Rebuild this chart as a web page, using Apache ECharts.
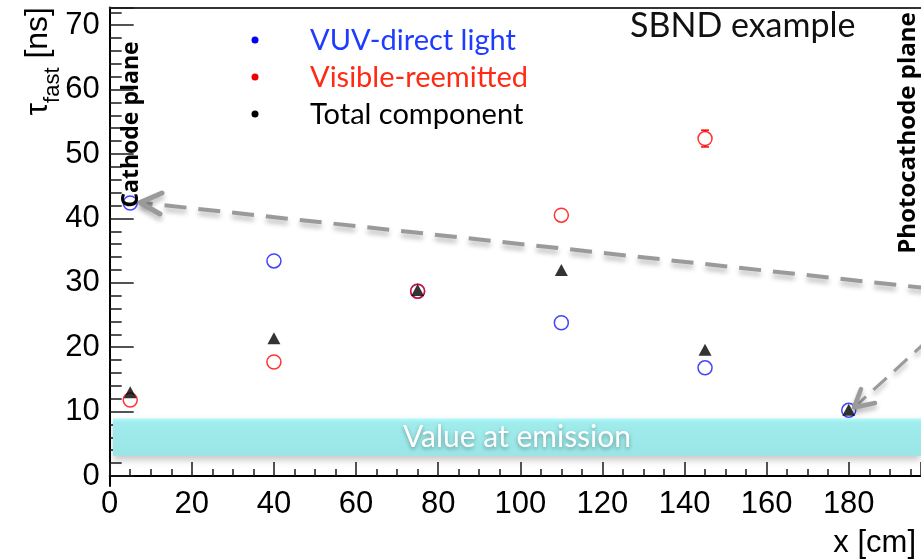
<!DOCTYPE html>
<html>
<head>
<meta charset="utf-8">
<script src="https://cdn.jsdelivr.net/npm/echarts@6/dist/echarts.min.js"></script>
<style>
  html, body { margin: 0; padding: 0; background: #ffffff; }
  #chart { width: 921px; height: 559px; }
</style>
</head>
<body>
<div id="chart"></div>
<script>
// Drift distance of the scintillation point from the cathode (cm)
const positions = [5, 40, 75, 110, 145, 180];
// Fast decay constant seen at the photocathode (ns)
const vuvTau = [42.4, 33.4, 28.7, 23.8, 16.8, 10.2];
const visTau = [11.8, 17.7, 28.7, 40.5, 52.4];
const visErr = [0.3, 0.3, 0.3, 0.5, 1.3];
const totalTau = [13.0, 21.4, 28.9, 32.0, 19.6, 10.3];
// Range of tau_fast at emission (ns)
const emissionBand = [3.15, 8.95];
// Axis ranges
const xRange = [0, 197.6];
const xStep = 20;
const yTickRange = [0, 72.75];
const yStep = 10;
const yFrameRange = [-1.55, 72.75];

const HELV = '"Liberation Sans", Arial, sans-serif';
const HUMAN = 'Lato, "Open Sans", sans-serif';
const TICK = '#1a1a1a';

const chart = echarts.init(document.getElementById('chart'), null, { renderer: 'canvas' });

const vuvData = positions.map((x, i) => [x, vuvTau[i]]);
const visData = visTau.map((v, i) => [positions[i], v]);
const visErrData = visTau.map((v, i) => [positions[i], v, visErr[i]]);
const totData = positions.map((x, i) => [x, totalTau[i]]);

const MARK_R = 7;

function errorBar(params, api) {
  const x = api.value(0), y = api.value(1), e = api.value(2);
  const mid = api.coord([x, y]);
  const hi = api.coord([x, y + e]);
  const lo = api.coord([x, y - e]);
  const style = { stroke: '#ff0000', lineWidth: 1.5 };
  const kids = [];
  if (mid[1] - hi[1] > MARK_R) {
    kids.push({ type: 'line', shape: { x1: mid[0], y1: mid[1] - MARK_R, x2: hi[0], y2: hi[1] }, style });
    kids.push({ type: 'line', shape: { x1: hi[0] - 4, y1: hi[1], x2: hi[0] + 4, y2: hi[1] }, style });
  }
  if (lo[1] - mid[1] > MARK_R) {
    kids.push({ type: 'line', shape: { x1: mid[0], y1: mid[1] + MARK_R, x2: lo[0], y2: lo[1] }, style });
    kids.push({ type: 'line', shape: { x1: lo[0] - 4, y1: lo[1], x2: lo[0] + 4, y2: lo[1] }, style });
  }
  return { type: 'group', children: kids };
}

const arrowStyle = (w) => ({
  stroke: '#9a9a9a',
  lineWidth: w,
  shadowBlur: 5,
  shadowColor: 'rgba(0,0,0,0.28)',
  shadowOffsetY: 4,
  fill: null
});

const option = {
  backgroundColor: '#ffffff',
  animation: false,
  grid: [
    { left: 109.7, right: 0, top: 7.5, bottom: 73, show: false },
    { left: 109.7, right: 0, top: 7.5, bottom: 83, show: false }
  ],
  xAxis: [
    {
      gridIndex: 0, type: 'value', min: xRange[0], max: xRange[1], interval: xStep,
      axisLine: { show: true, lineStyle: { color: '#000', width: 2 } },
      axisTick: { show: true, inside: true, length: 14, lineStyle: { color: TICK, width: 1.5 } },
      minorTick: { show: true, splitNumber: 4, length: 7, lineStyle: { color: TICK, width: 1.5 } },
      splitLine: { show: false },
      axisLabel: { show: true, margin: 3, fontSize: 31, fontFamily: HELV, color: '#000', showMaxLabel: false }
    },
    {
      // upper frame edge
      gridIndex: 0, type: 'value', position: 'top', min: xRange[0], max: xRange[1],
      axisLine: { show: true, lineStyle: { color: '#333', width: 2 } },
      axisTick: { show: false }, axisLabel: { show: false }, splitLine: { show: false }
    },
    { gridIndex: 1, type: 'value', min: xRange[0], max: xRange[1], show: false }
  ],
  yAxis: [
    {
      gridIndex: 0, type: 'value', min: yFrameRange[0], max: yFrameRange[1],
      axisLine: { show: true, lineStyle: { color: '#000', width: 2 } },
      axisTick: { show: false }, axisLabel: { show: false }, splitLine: { show: false }
    },
    {
      gridIndex: 1, type: 'value', min: yTickRange[0], max: yTickRange[1], interval: yStep,
      axisLine: { show: false },
      axisTick: { show: true, inside: true, length: 24, lineStyle: { color: TICK, width: 1.5 } },
      minorTick: { show: true, splitNumber: 5, length: 12, lineStyle: { color: TICK, width: 1.5 } },
      splitLine: { show: false },
      axisLabel: { show: true, margin: 10, fontSize: 31, fontFamily: HELV, color: '#000', showMaxLabel: false }
    }
  ],
  series: [
    {
      name: 'VUV-direct light', type: 'scatter', xAxisIndex: 0, yAxisIndex: 0,
      data: vuvData, symbol: 'circle', symbolSize: 2 * MARK_R, z: 3,
      itemStyle: { color: 'rgba(0,0,0,0)', borderColor: '#1414ff', borderWidth: 1.5 },
      markArea: {
        silent: true,
        itemStyle: {
          color: {
            type: 'linear', x: 0, y: 0, x2: 0, y2: 1,
            colorStops: [
              { offset: 0, color: '#b0fafa' },
              { offset: 0.12, color: '#a0ecec' },
              { offset: 1, color: '#9ae6e6' }
            ]
          },
          shadowBlur: 7, shadowColor: 'rgba(0,0,0,0.22)', shadowOffsetY: 4
        },
        label: {
          show: true, position: 'inside', formatter: 'Value at emission',
          color: '#ffffff', fontSize: 30, fontFamily: HUMAN,
          textShadowColor: 'rgba(0,0,0,0.35)', textShadowBlur: 4, textShadowOffsetY: 2
        },
        data: [[{ xAxis: 0.8, yAxis: emissionBand[0] }, { xAxis: xRange[1], yAxis: emissionBand[1] }]]
      }
    },
    {
      name: 'Visible-reemitted errors', type: 'custom', xAxisIndex: 0, yAxisIndex: 0,
      data: visErrData, renderItem: errorBar, z: 3, silent: true
    },
    {
      name: 'Visible-reemitted', type: 'scatter', xAxisIndex: 0, yAxisIndex: 0,
      data: visData, symbol: 'circle', symbolSize: 2 * MARK_R, z: 4,
      itemStyle: { color: 'rgba(0,0,0,0)', borderColor: '#ff0000', borderWidth: 1.5 }
    },
    {
      name: 'Total component', type: 'scatter', xAxisIndex: 0, yAxisIndex: 0,
      data: totData, symbol: 'triangle', symbolSize: [13, 12], z: 5,
      itemStyle: { color: '#000000' }
    }
  ],
  graphic: [
    // legend
    { type: 'circle', z: 100, shape: { cx: 255, cy: 40, r: 3.5 }, style: { fill: '#0000ee' } },
    { type: 'circle', z: 100, shape: { cx: 255, cy: 77, r: 3.5 }, style: { fill: '#ee0000' } },
    { type: 'circle', z: 100, shape: { cx: 255, cy: 114, r: 3.5 }, style: { fill: '#000000' } },
    { type: 'text', z: 100, x: 310, y: 41, style: { text: 'VUV-direct light', fill: '#1e3cff', font: '29px ' + HUMAN, verticalAlign: 'middle' } },
    { type: 'text', z: 100, x: 310, y: 78, style: { text: 'Visible-reemitted', fill: '#ff2a14', font: '29px ' + HUMAN, verticalAlign: 'middle' } },
    { type: 'text', z: 100, x: 310, y: 115, style: { text: 'Total component', fill: '#000000', font: '29px ' + HUMAN, verticalAlign: 'middle' } },
    // caption
    { type: 'text', z: 100, x: 630, y: 26, style: { text: 'SBND example', fill: '#111', font: '34px ' + HUMAN, verticalAlign: 'middle' } },
    // plane labels
    { type: 'text', z: 100, x: 131, y: 124.5, rotation: Math.PI / 2, style: { text: 'Cathode plane', fill: '#000', font: 'bold 23px "Open Sans", sans-serif', align: 'center', verticalAlign: 'middle' } },
    { type: 'text', z: 100, x: 908, y: 133, rotation: Math.PI / 2, style: { text: 'Photocathode plane', fill: '#000', font: 'bold 24px "Open Sans", sans-serif', align: 'center', verticalAlign: 'middle' } },
    // dashed pointers
    { type: 'line', z: 90, shape: { x1: 930, y1: 288.5, x2: 142, y2: 202.8 }, style: Object.assign(arrowStyle(4), { lineDash: [22, 12] }) },
    { type: 'polyline', z: 90, shape: { points: [[162, 193], [140, 202.6], [160, 214]] }, style: Object.assign(arrowStyle(5), { lineJoin: 'round', lineCap: 'round' }) },
    { type: 'line', z: 90, shape: { x1: 928, y1: 340, x2: 858, y2: 404 }, style: Object.assign(arrowStyle(3), { lineDash: [18, 10] }) },
    { type: 'polyline', z: 90, shape: { points: [[861, 389], [854, 407.5], [875, 403]] }, style: Object.assign(arrowStyle(4.5), { lineJoin: 'round', lineCap: 'round' }) },
    // axis titles
    {
      type: 'text', z: 100, x: 38, y: 7, rotation: Math.PI / 2,
      style: {
        text: '{t|τ}{s|fast}{t| [ns]}', align: 'right', verticalAlign: 'middle', fill: '#000',
        rich: {
          t: { fontSize: 32, fontFamily: HELV, lineHeight: 32, fill: '#000' },
          s: { fontSize: 22, fontFamily: HELV, lineHeight: 22, padding: [30, 0, 0, 0], fill: '#000' }
        }
      }
    },
    { type: 'text', z: 100, x: 916, y: 543, style: { text: 'x [cm]', fill: '#000', font: '31px ' + HELV, align: 'right', verticalAlign: 'middle' } }
  ]
};

chart.setOption(option);
</script>
</body>
</html>
